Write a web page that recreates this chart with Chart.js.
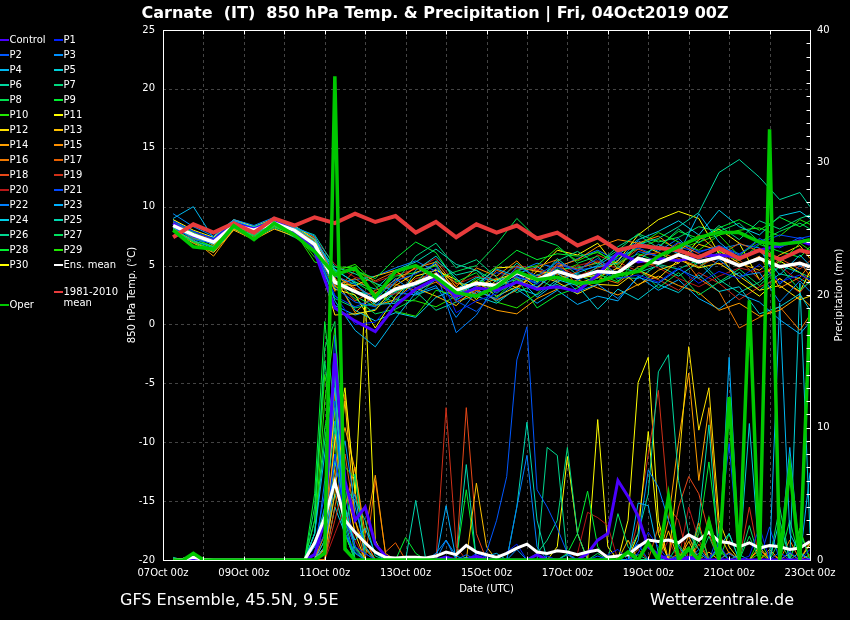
<!DOCTYPE html>
<html>
<head>
<meta charset="utf-8">
<title>Carnate 850 hPa Temp. &amp; Precipitation</title>
<script src="https://cdn.jsdelivr.net/npm/chart.js"></script>
<style>
  html, body { margin: 0; padding: 0; background: #000; }
  canvas { display: block; }
</style>
</head>
<body>
<canvas id="myChart" width="850" height="620"></canvas>
<script>
// hours after 07Oct 00z
const hoursT = [6,18,30,42,54,66,78,90, 102,114,126,138,150,162,174,186, 198,210,222,234,246,258,270,282, 294,306,318,330,342,354,366,378, 384];
const hoursP = [6,12,18,24,30,36,42,48, 54,60,66,72,78,84,90,96, 102,108,114,120,126,132,138,144, 150,156,162,168,174,180,186,192,
                198,204,210,216,222,228,234,240, 246,252,258,264,270,276,282,288, 294,300,306,312,318,324,330,336, 342,348,354,360,366,372,378,384];
const xTickLabels = ['07Oct 00z','09Oct 00z','11Oct 00z','13Oct 00z','15Oct 00z','17Oct 00z','19Oct 00z','21Oct 00z','23Oct 00z'];

// 850 hPa temperature (°C)
const tC  = [8.6,7.5,7.1,8.5,8.1,8.8,7.9,6.2, 1.4,0.3,-0.6,1.6,3.0,3.9,2.4,3.1, 2.9,3.6,3.0,3.2,2.8,4.2,6.1,5.3, 5.6,5.4,5.8,5.9,5.7,6.3,6.7,7.1, 6.8];
const t1  = [8.8,7.9,7.3,8.7,8.2,8.9,8.1,6.5, 2.5,0.0,0.2,2.2,3.3,4.8,1.0,2.0, 2.6,4.2,3.4,4.9,3.8,4.6,3.9,4.2, 3.6,4.8,3.5,4.5,3.9,5.1,3.6,4.2, 3.8];
const t2  = [8.3,7.2,6.9,8.3,7.9,8.5,7.8,6.7, 3.1,1.9,1.5,3.7,4.3,5.2,2.0,1.1, 2.9,4.9,4.1,5.3,4.6,5.6,4.2,6.2, 5.8,7.0,6.2,6.6,5.9,7.3,6.5,7.4, 7.0];
const t3  = [9.4,8.3,7.5,8.9,8.4,9.1,8.3,7.5, 4.1,3.4,2.1,3.9,2.6,3.3,0.6,2.8, 2.2,3.6,3.2,4.4,2.8,3.4,2.2,4.0, 3.5,4.7,3.9,5.5,4.1,4.4,1.9,3.7, 2.8];
const t4  = [9.0,10.0,7.3,8.8,8.2,8.7,7.9,7.0, 2.0,-0.5,-1.9,0.5,2.7,3.8,2.6,3.4, 4.7,4.1,2.3,3.6,4.4,5.0,6.1,5.4, 6.8,6.0,9.4,7.0,5.6,6.4,4.2,5.9, 5.0];
const t5  = [8.2,7.4,6.8,8.6,7.7,8.5,8.2,7.2, 4.7,3.5,1.7,1.8,4.6,5.8,3.9,2.4, 1.8,3.1,2.5,3.8,3.3,1.3,3.0,2.1, 3.4,2.7,4.2,2.8,3.2,0.9,1.5,2.6, 1.2];
const t6  = [8.5,7.6,7.2,8.6,8.3,8.9,8.2,7.6, 4.9,4.3,3.5,2.8,3.5,5.4,4.2,4.6, 3.6,5.2,3.9,3.0,3.7,4.9,5.2,6.8, 7.3,8.3,9.5,12.9,14.0,12.5,10.6,11.2, 10.0];
const t7  = [8.0,7.1,6.6,8.2,7.6,8.4,7.7,6.3, 2.2,1.4,1.8,3.6,5.8,6.9,4.8,5.5, 4.0,2.7,3.5,5.4,6.2,5.1,6.6,7.6, 6.5,8.1,6.9,8.4,7.2,8.8,8.1,9.0, 9.3];
const t8  = [8.7,7.8,7.0,8.3,7.8,8.6,8.0,6.9, 3.8,2.2,0.9,1.3,2.2,3.9,4.5,5.0, 6.8,9.0,7.3,6.7,5.2,5.8,3.7,4.8, 3.1,4.4,2.5,3.6,4.7,3.3,4.9,2.9, 3.6];
const t9  = [8.1,7.0,6.4,8.2,7.5,8.3,7.6,6.0, 4.4,4.6,3.9,5.6,7.0,6.1,3.6,4.4, 2.3,3.9,1.4,2.5,3.1,4.3,3.6,5.8, 6.6,7.9,7.3,8.2,8.9,8.0,9.1,8.3, 8.8];
const t10 = [8.4,7.3,6.6,8.5,7.9,8.7,7.9,5.3, 4.9,4.8,3.3,1.1,0.7,2.9,2.5,3.9, 3.0,4.6,5.0,6.5,5.4,6.2,5.0,6.7, 7.8,7.0,6.3,7.6,5.8,7.2,5.2,6.9, 6.3];
const t11 = [8.9,8.0,7.4,8.9,8.3,9.0,8.4,7.2, 3.0,2.5,-0.3,2.4,4.1,4.6,3.8,2.1, 3.8,4.4,3.1,4.6,3.9,4.2,5.4,7.6, 8.9,9.6,9.0,6.0,3.6,2.4,3.9,2.8, 4.5];
const t12 = [8.3,7.5,6.9,8.4,8.1,8.7,8.1,6.6, 0.8,0.9,1.2,3.3,4.4,5.1,2.8,3.7, 2.4,3.2,4.2,3.6,2.6,3.4,3.3,4.6, 3.9,5.5,4.8,5.2,4.1,2.9,3.3,2.1, 2.4];
const t13 = [7.9,6.9,6.1,8.0,7.2,8.1,7.5,6.1, 3.5,3.3,4.1,4.6,3.1,2.4,1.6,3.2, 3.9,3.1,4.5,4.3,3.5,4.0,4.8,3.3, 4.6,5.2,6.8,6.3,5.2,4.6,5.9,6.7, 5.6];
const t14 = [8.0,7.2,5.8,8.1,7.4,8.3,7.6,6.4, 4.2,3.0,1.6,2.1,3.7,4.1,2.9,1.9, 1.2,0.9,2.2,3.0,3.8,3.1,2.5,3.4, 4.1,3.3,2.7,1.2,1.8,0.7,1.2,2.4, 1.6];
const t15 = [8.6,7.7,6.7,8.5,8.0,8.8,8.3,7.4, 4.0,1.0,2.6,3.8,4.8,5.3,3.2,4.8, 4.1,5.4,3.6,4.9,5.5,6.6,7.2,6.9, 7.5,6.2,7.6,6.1,4.9,5.8,3.1,4.0, 5.1];
const t16 = [8.2,7.0,6.3,8.2,7.6,8.4,7.8,6.6, 3.3,3.9,2.7,3.4,2.9,3.6,2.3,2.9, 2.1,2.9,4.9,5.5,3.2,4.0,3.5,4.9, 5.2,6.1,3.9,2.8,-0.3,0.6,1.5,-0.5, 0.8];
const t17 = [8.7,7.6,7.1,8.6,8.0,8.8,8.1,7.1, 2.8,4.6,3.7,4.5,3.4,4.4,3.2,2.6, 4.6,3.9,3.0,5.2,4.7,5.3,4.3,5.8, 6.1,5.6,4.9,5.8,6.9,6.2,4.8,5.3, 4.1];
const t18 = [8.5,7.3,6.9,8.4,7.8,8.6,8.0,6.9, 3.8,2.0,2.9,3.5,4.9,3.7,2.5,3.6, 3.3,4.8,4.6,3.7,4.5,5.9,5.1,6.4, 5.7,6.9,6.0,5.1,5.5,3.8,5.6,4.7, 5.4];
const t19 = [8.3,7.4,7.0,8.3,8.0,8.5,7.9,6.8, 4.3,3.1,2.4,2.6,3.9,4.3,1.9,2.8, 3.5,4.2,4.0,5.0,4.1,4.8,5.3,4.5, 3.8,2.9,4.4,3.5,2.1,3.2,3.9,2.7, 3.8];
const t20 = [8.6,7.8,7.2,8.7,8.2,8.9,8.2,7.3, 5.1,4.0,3.6,4.2,4.7,5.6,3.4,4.1, 3.8,5.0,4.7,4.2,5.0,5.4,4.7,5.5, 4.8,3.9,3.2,4.1,4.8,4.4,5.0,3.6, 4.4];
const t21 = [8.4,7.7,7.0,8.5,7.9,8.8,8.1,6.4, 2.4,1.5,2.2,3.1,3.6,4.3,2.0,3.3, 4.4,4.0,3.6,5.1,4.6,4.9,5.6,6.5, 5.8,6.6,6.1,6.7,6.0,6.9,7.6,7.3, 7.5];
const t22 = [8.9,7.8,7.4,8.8,8.3,8.9,8.1,6.9, 3.4,3.8,4.1,4.8,5.4,4.5,-0.7,0.8, 3.5,4.5,5.2,4.8,5.6,6.3,5.4,7.1, 6.2,7.3,5.5,6.4,6.8,6.5,3.4,5.0, 4.6];
const t23 = [8.1,7.1,6.5,8.2,7.5,8.4,7.8,6.2, 1.6,0.8,1.3,2.7,2.5,3.1,2.1,3.0, 2.0,3.0,1.8,2.9,1.7,2.4,2.0,4.1, 2.9,3.8,2.2,1.3,2.6,1.9,0.4,-0.8, 0.2];
const t24 = [8.7,7.9,7.2,8.7,8.1,8.7,8.0,7.3, 3.9,1.2,0.3,1.0,0.6,2.3,3.0,4.0, 3.7,4.3,4.9,3.9,4.3,3.9,5.9,7.2, 7.9,8.8,7.6,9.7,8.3,7.6,9.2,9.6, 9.0];
const t25 = [8.4,7.5,6.9,8.4,8.0,8.6,8.0,7.0, 4.6,3.6,3.0,4.6,5.3,6.4,5.1,4.6, 3.1,4.0,3.5,5.6,4.2,3.5,4.9,4.4, 5.0,4.1,5.3,3.5,4.4,2.9,4.3,3.9, 3.4];
const t26 = [8.0,7.0,6.2,8.1,7.3,8.2,7.4,6.6, 3.7,2.8,2.5,1.9,2.8,1.2,1.9,2.5, 3.4,3.8,2.9,3.4,2.6,4.5,4.0,3.9, 5.1,4.7,5.5,3.8,2.7,3.6,5.0,4.4, 4.0];
const t27 = [8.8,7.9,7.2,8.6,8.1,8.9,8.0,7.2, 4.5,2.4,1.5,2.8,3.3,4.1,2.7,3.6, 2.7,3.6,4.2,4.7,4.8,5.2,6.3,7.7, 7.0,7.4,8.3,7.9,8.6,7.0,7.9,8.6, 8.1];
const t28 = [8.5,7.5,6.8,8.4,7.9,8.5,7.7,6.3, 2.9,3.6,2.6,4.1,4.4,5.0,2.2,3.7, 4.9,6.3,5.5,6.0,5.8,6.1,5.2,6.0, 5.3,6.7,4.8,6.2,5.4,6.8,6.2,5.7, 6.6];
const t29 = [8.3,7.3,6.6,8.3,7.7,8.5,7.8,5.7, 4.5,5.1,3.5,2.1,2.0,1.5,2.4,3.5, 1.9,1.4,2.6,4.4,5.1,3.6,5.8,6.4, 7.2,6.4,7.0,7.6,8.0,8.2,7.5,8.9, 8.5];
const t30 = [8.6,7.7,7.1,8.7,8.2,8.9,8.2,7.0, 3.2,2.9,1.9,3.1,3.5,4.7,3.5,3.3, 4.8,4.9,4.5,6.3,5.9,6.9,4.7,6.9, 6.1,5.2,7.2,8.1,6.9,3.8,5.4,4.4, 3.6];
const tOper = [8.0,6.6,6.4,8.4,7.2,8.6,7.6,6.2, 4.2,4.8,2.3,4.5,5.0,4.0,2.7,2.4, 3.2,4.5,3.8,4.0,3.5,3.6,4.2,4.5, 5.8,6.6,7.4,7.8,7.8,7.0,6.8,7.0, 7.2];
const tMean = [8.4,7.6,7.0,8.4,8.0,8.6,8.0,6.8, 3.6,2.8,2.0,3.0,3.5,4.2,2.9,3.5, 3.3,4.4,3.8,4.5,4.0,4.5,4.4,5.6, 5.2,5.9,5.3,5.7,5.0,5.6,4.9,5.2, 4.9];
const tClim = [7.4,8.5,7.8,8.6,7.8,9.0,8.4,9.1, 8.6,9.4,8.7,9.2,7.8,8.7,7.4,8.5, 7.8,8.4,7.3,7.8,6.7,7.4,6.3,6.7, 6.5,6.3,5.7,6.5,5.6,6.3,5.5,6.3, 6.1];

// precipitation (mm)
const rC  = [0,0,0,0,0,0,0,0, 0,0,0,0,0,0,0.4,3, 15.6,6,3,4,1.2,0.3,0,0, 0,0,0,0.2,0,0,0.3,0, 0,0,0,0,0.4,0,0,0, 0,0.5,1.5,2,6,4.8,3.3,1, 0.4,0,0,0.2,0,0,0,0, 0,0,0,0,0,0,0,0];
const r1  = [0,0,0,0,0,0,0,0, 0,0,0,0,0,0,0.5,2, 8,3,1,0.5,0,0,0,0, 0,0,0,0.3,0,0,0.5,0.2, 0,0.6,1.2,0,0,0.3,0,0, 0,0,0,0.4,0.8,0,0.5,2.1, 1,0,0.3,0,0,0,1.2,0, 0,0.3,2.5,0,0,0.6,0,0.8];
const r2  = [0,0,0,0,0,0,0,0, 0,0,0,0,0,0,1,5, 12,2,0.6,0,0,0,0,0, 0,0,0,0,0,0.4,0,0.6, 3,6.3,15.1,17.6,5.3,4,2.4,0.5, 0,0,0.3,0,0,0.5,1.2,0, 0,0.4,0,0,0.8,0,0,0.5, 0,0,0,0,0.6,0,0,0];
const r3  = [0,0,0,0,0,0,0,0, 0,0,0,0,0,0,0,1, 6,9,4,1,0,0,0,0, 0,0,0.5,1.5,0.3,0,0,0, 0,0,0.8,0,0,0,0,0.4, 0,0,0,0,0,0,1.5,6.8, 5.5,3,1,0,0.5,0,0,0, 0,0,0,0,0,0,0,0];
const r4  = [0,0,0,0,0,0,0,0, 0,0,0,0,0,0,2,8, 13,3,1.5,2.4,0.5,0,0,0, 0,0,0,0,0,0,0,0.3, 0.5,0,0,0,0,0,0,0, 0,0,0,0,0,0,4.3,4.1, 0.5,0,0.3,0,0,0,0,0, 0,0,0,0,19.4,2,0.5,0];
const r5  = [0,0,0,0,0,0,0,0, 0,0,0,0,0,0,0,1.5, 7.5,4,0.8,0,0,0,0,0, 0,0,0,0,0,0.2,0,0, 0,0,0,0,0,0,0,0, 0,0,0,0,0,0,0,0, 0,0,0,0,0,0,1,2, 0,10.3,0,0,3,0,20.9,2];
const r6  = [0.2,0,0,0,0,0,0,0, 0,0,0,0,0,0,1,4, 10,5.4,4.5,3,0.3,0,0,0, 0,0,0,0,0,0,0,0, 0,0,0,0,0,0,0,0, 0,0,0,0,0,0.5,2,5, 14.2,15.5,6,2,0.8,0,0,0, 0.4,0,0,0,0,0,0.6,0];
const r7  = [0,0,0,0,0,0,0,0, 0,0,0,0,0,0,2,9, 14,2,6.5,0.5,0,0,0,0, 0,0,0,0,0,0,0,0, 0,0,0,0,0.5,1.5,3,8.5, 2,0,0,0,0,0,0.4,0, 0,0,0,0,0,0,0,0, 0,0,0,0,0,0,0,0];
const r8  = [0,0,0,0,0,0,0,0, 0,0,0,0,0,0,3,16, 18,4,1,0,0,0,0,0, 0,0,0,0,0,0,0,0, 0,0,0,0,0,0,0,0, 0,0,0.5,0,0,0,0,0, 0,0,1.2,0,2.5,0,0.8,0, 0,1.8,0,0,1.5,0,2.2,0];
const r9  = [0,0,0.3,0,0,0,0,0, 0,0,0,0,0,0,5,18, 11,2,0,0,0,0,0,1.7, 0.5,0,0,0,0,0,0,0, 0,0,0,0,0,0,0,0.5, 2,5.2,1,0,0,0,0,0, 0,0,0,0,2,7.4,1,0, 0,0,0,0,0,0,0,0];
const r10 = [0,0,0,0,0,0,0,0, 0,0,0,0,0,0,2,12, 17.5,7,6.2,1,0,0,0,0, 0,0,0,0,0,0,0,0, 0,0,0,0,0,0,0,0, 0,0,0,0,0,0,0,0, 0,0,0.3,1,0,0,0,0, 0,0,0.5,0,0,0,0,0];
const r11 = [0,0,0,0,0,0,0,0, 0,0,0,0,0,0,0,1, 9,13,5,20,1.5,0,0,0, 0,0,0,0,0,0,0,0, 0,0,0,0,0,0,0,0, 0,0,0,0,0,0,2,9.7, 2,0,0,0,0,0,0,0, 0,0,0,0,0,0,0,0];
const r12 = [0,0,0,0,0,0,0,0, 0,0,0,0,0,0,0,3, 11.5,6,2,0,0,0,0,0, 0,0,0,0,0,0,0,0, 0,0,0,0,0,0,0,0, 0,0,0,0,0,0,0,0, 0,0,7,16.1,9.8,13,3,1, 0,0,0,0,0,0,0,0];
const r13 = [0,0,0,0,0,0,0,0, 0,0,0,0,0,0,0,0.5, 5,12,3,0.8,0,0,0,0, 0,0,0,0,0,0,5.8,1, 0,0,0,0,0,0,0,0, 0,0,0,0,0,1.5,0,0, 0,2.2,0,1.4,0,0.6,0,0, 0,0,1,0,0,0.5,0,1.2];
const r14 = [0,0,0,0,0,0,0,0, 0,0,0,0,0,0,0,0, 7,10,6.8,2,6.4,0.5,0,0, 0,0,0,0,0,0,0,0, 0,0,0,0,0,0,0,0, 0,0,0,0,0,0,0,0, 0,3,9,14.1,6,11.5,2,0.5, 0,0,0,0,0,0,0,0];
const r15 = [0,0,0,0,0,0,0,0, 0,0,0,0,0,0,0,1, 13,4,7,1,0,0,0,0, 0,0,0,0,0,0,0,0, 0,0,0,0,0,0,0,0, 0,0,0,0,0,0,0,0, 0,0,0,1.8,0,3.2,0,0.6, 0,0,0,0.8,0,0,0,0.4];
const r16 = [0,0,0,0,0,0,0,0, 0,0,0,0,0,0,0,2, 6,12.5,5.2,1.5,0,0,0,0, 0,0,0,0,0,0,0,0, 0,0,0,0,0,0,0,0, 0,0,0,0,0,0,0,0, 0,0,0.5,0,2.8,0,1.1,0, 0,0,0.8,0,0,1.5,0,0];
const r17 = [0,0,0,0,0,0,0,0, 0,0,0,0,0,0,0,0, 4,8,3,0,6,0.6,1.3,0, 0,0,0,0,0,0,0,0, 0,0,0,0,0,0,0,0, 0,0,0,0,0,0,0.8,0, 2.5,0,0,0,1.2,0,0,0, 0,0,0,0.6,0,0,0,1.4];
const r18 = [0,0,0,0,0,0,0,0, 0,0,0,0,0,0,0,1.5, 9.5,3.5,1,0,0,0,0,0, 0,0,0,0,0,11.5,2,0, 0,0,0,0,0,0,0,0, 0,0,0,0,0,0,0,0, 0,0,4,6.3,5,2,0,0, 0,0,0,0,0,0,0,0];
const r19 = [0,0,0,0,0,0,0,0, 0,0,0,0,0,0,0,0, 3,6,2,1.5,0,0,0,0, 0,0,0,11.5,1,0,0,0, 0,0,0,0,0,0,0,0, 0,0,0,0,0,0,3,8, 12.8,4,3,0,0,0,0,0, 0,4,0,0,0,0,0,0];
const r20 = [0,0,0,0,0,0,0,0, 0,0,0,0,0,0,0,0, 2,4,1.5,0,0,0,0,0, 0,0,0,0,0,0,0,0, 0,0,0,0,0,0,0,0, 0.5,3.6,3.2,2.6,0,0,0,0, 0,1.5,0,4,1.5,0,0,0, 0,0,0,0,0,0,0,0];
const r21 = [0,0,0,0,0,0,0,0, 0,0,0,0,0,0,0,4, 17,5,1,0,0,0,0,0, 0,0,0,0,0,0,0,0, 0,0,0,0,0,0,0,0, 0,0,0,0,0,0,0,0, 0,0,0,0,0,0,2,8.8, 0,0,0,2.5,0,0,0,0];
const r22 = [0,0,0,0,0,0,0,0, 0,0,0,0,0,0,0,6, 10.5,2.5,0,0,0,0,0,0, 0,0,0,1.5,0,0,0,0, 0,0,4,7.9,1,0,0,0, 0,0,0,0,0,0,0,0, 0,0,0,0,0,0,0,0, 0,0,0,0,0,0,0,0];
const r23 = [0,0,0,0,0,0,0,0, 0,0,0,0,0,0,0,2, 14,3,5,0,0,0,0,0, 0,0,0,4.1,0,0,0,0, 0,0,0,0,0,0,0,0, 0,0,0,0,0,0,0,0, 0,0,0,0,0,0,0,15.3, 0,0,0,0,0,8.5,0,6.6];
const r24 = [0,0,0,0,0,0,0,0, 0,0,0,0,0,0,0,0, 4,2,0,0,0,0,0,0, 0,0,0,0,0,0,0,0, 0,0,0,0,0,0,0,0, 0,0,0,0,0,0,0,0, 0,0,0,0,0,0,0,0, 0,0,0,0,0,0,0,19];
const r25 = [0,0,0,0,0,0,0,0, 0,0,0,0,0,0,0,1, 5,2,0.5,0,0,0,0,0, 4.5,0,0,0,0,7.2,0,0, 0,0,4,10.4,3,0,0,0, 0,0,0,0,0,0,0,0, 0,0,0,0,3,10.2,0,0, 0,0,0,0,0,0,0,0];
const r26 = [0,0,0,0,0,0,0,0, 0,0,0,0,0,0,1,3, 8,3,0,0,0,0,0,0, 0,0,0,0,0,0,0,0, 0,0,0,0,0,8.5,7.9,0, 0,0,0,0,0,0,0,0, 0,0,0,0,0,0,0,0, 0,0,0,0,0,0,0,0];
const r27 = [0,0,0,0,0,0,0,0, 0,0,0,0,0,0,4,15, 9,1,0,0,0,0,0,0, 0,0,0,0,0,0,0,0, 0,0,0,0,0,0,0,0, 0,0,0,0,3.5,1,0,0, 0,0,0,0,0,1.8,0,0, 0,2.6,0,0,4,0,0,1.2];
const r28 = [0,0,0,0,0,0,0,0, 0,0,0,0,0,0,2,10, 13,6,0,0,0,0,0,0, 0,0,0,0,0,5.3,0,0, 0,0,0,0,0,0,0,0, 0,0,0,0,0,0,0,0, 0,0,0,0,1.5,0,0,2, 0,0,0,0,0,3,0,0];
const r29 = [0,0,0,0,0,0,0,0, 0,0,0,0,0,0,3,14, 10,2,0,0,0,0,0,0, 0,0,0,0,0,0,0,0, 0,0,0,0,0,0,0,0, 0,0,0,0,0,0,0,0, 0,0,0,0,0,0,0.7,0, 0,0,1.6,0,0,0,2.4,0];
const r30 = [0,0,0,0,0,0,0,0, 0,0,0,0,0,0,0,0.8, 6,3,1,0,0,0,0,0, 0,0,0,0,0,0,0,0, 0,0,0,0,0,0,1,7.8, 2,0,10.6,1,0,3,13.4,15.3, 3,0,0,0,0,0,0,0, 0,0,0,0,0,0,0,0];
const rOper = [0,0,0.5,0,0,0,0,0, 0,0,0,0,0,0,0,0.5, 36.5,0.8,0,0,0,0,0,0, 0,0,0,0,0,0,0,0, 0,0,0,0,0,0,0,0, 0,0,0,0,0,0.6,0,1.3, 0,4.8,0,0.8,0,2.9,0,12.3, 0,19.6,0,32.5,0,6.9,0,18.9];
const rMean = [0,0.05,0.2,0.05,0,0,0,0, 0,0,0,0,0,0,1.3,3.2, 5.9,3.0,2.1,1.3,0.6,0.2,0.15,0.2, 0.2,0.15,0.3,0.6,0.4,1.1,0.6,0.4,
               0.2,0.5,0.9,1.2,0.6,0.5,0.7,0.6, 0.4,0.6,0.75,0.2,0.3,0.4,1.0,1.5, 1.4,1.5,1.3,1.9,1.5,2.1,1.4,1.3, 1.0,1.3,0.9,1.1,1.0,0.8,0.9,1.4];

const names = ['Control','P1','P2','P3','P4','P5','P6','P7','P8','P9','P10','P11','P12','P13','P14','P15',
               'P16','P17','P18','P19','P20','P21','P22','P23','P24','P25','P26','P27','P28','P29','P30'];
const colours = ['#4a00ff','#0020ff','#0058ff','#0090ff','#00b8f0','#00d0d8','#00d8a0','#00d880','#00e050','#00f030','#20e800',
                 '#ffff00','#ffe000','#ffc000','#ffa000','#ff9000','#f07800','#e86000','#e84818','#d03018','#b81818',
                 '#0048ff','#0080ff','#00b0ff','#00d0e8','#00d8b0','#00d890','#00e060','#00f030','#20e800','#ffff00'];
const memberTemps = [tC,t1,t2,t3,t4,t5,t6,t7,t8,t9,t10,t11,t12,t13,t14,t15,t16,t17,t18,t19,t20,t21,t22,t23,t24,t25,t26,t27,t28,t29,t30];
const memberRain = [rC,r1,r2,r3,r4,r5,r6,r7,r8,r9,r10,r11,r12,r13,r14,r15,r16,r17,r18,r19,r20,r21,r22,r23,r24,r25,r26,r27,r28,r29,r30];
const operColour = '#00c800';
const climColour = '#e83c3c';

const FONT = '"DejaVu Sans", "Liberation Sans", sans-serif';

function toPts(hours, vals) {
    return vals.map((v, i) => ({ x: hours[i], y: v }));
}

const datasets = [];
memberTemps.forEach((vals, i) => {
    datasets.push({
        label: names[i],
        data: toPts(hoursT, vals),
        yAxisID: "y",
        borderColor: colours[i],
        borderWidth: i === 0 ? 3 : 1,
        order: i === 0 ? 5 : 9,
    });
    datasets.push({
        label: names[i] + " precip",
        data: toPts(hoursP, memberRain[i]),
        yAxisID: "y2",
        borderColor: colours[i],
        borderWidth: i === 0 ? 3 : 1,
        order: i === 0 ? 5 : 10,
    });
});
datasets.push({ label: "Ens. mean", data: toPts(hoursT, tMean), yAxisID: "y", borderColor: "#ffffff", borderWidth: 3.5, order: 3 });
datasets.push({ label: "Ens. mean precip", data: toPts(hoursP, rMean), yAxisID: "y2", borderColor: "#ffffff", borderWidth: 3, order: 3 });
datasets.push({ label: "1981-2010 mean", data: toPts(hoursT, tClim), yAxisID: "y", borderColor: climColour, borderWidth: 4, order: 2 });
datasets.push({ label: "Oper", data: toPts(hoursT, tOper), yAxisID: "y", borderColor: operColour, borderWidth: 3.5, order: 1 });
datasets.push({ label: "Oper precip", data: toPts(hoursP, rOper), yAxisID: "y2", borderColor: operColour, borderWidth: 3.5, order: 1 });

// grid, frame, titles and the two-column legend
const decor = {
    id: "decor",
    beforeDatasetsDraw(chart) {
        const { ctx, chartArea: a, scales } = chart;
        ctx.save();
        ctx.strokeStyle = "#444";
        ctx.lineWidth = 1;
        ctx.setLineDash([3, 3]);
        scales.x.ticks.forEach((t) => {
            const px = Math.round(scales.x.getPixelForValue(t.value)) + 0.5;
            if (px < a.left + 2 || px > a.right - 2) return;
            ctx.beginPath();
            ctx.moveTo(px, a.top);
            ctx.lineTo(px, a.bottom);
            ctx.stroke();
        });
        scales.y.ticks.forEach((t) => {
            const py = Math.round(scales.y.getPixelForValue(t.value)) + 0.5;
            if (py < a.top + 2 || py > a.bottom - 2) return;
            ctx.beginPath();
            ctx.moveTo(a.left, py);
            ctx.lineTo(a.right, py);
            ctx.stroke();
        });
        ctx.restore();
    },
    afterDatasetsDraw(chart) {
        const { ctx, chartArea: a, scales } = chart;
        const L = Math.round(a.left) + 0.5, R = Math.round(a.right) + 0.5;
        const T = Math.round(a.top) + 0.5, B = Math.round(a.bottom) + 0.5;
        ctx.save();
        ctx.strokeStyle = "#fff";
        ctx.lineWidth = 1;
        ctx.strokeRect(L, T, R - L, B - T);
        ctx.beginPath();
        scales.x.ticks.forEach((t) => {
            const px = Math.round(scales.x.getPixelForValue(t.value)) + 0.5;
            ctx.moveTo(px, T);
            ctx.lineTo(px, T + 4);
            ctx.moveTo(px, B);
            ctx.lineTo(px, B - 4);
        });
        scales.y2.ticks.forEach((t) => {
            const py = Math.round(scales.y2.getPixelForValue(t.value)) + 0.5;
            ctx.moveTo(R, py);
            ctx.lineTo(R - 4, py);
        });
        ctx.stroke();
        ctx.restore();
    },
    afterDraw(chart) {
        const { ctx, chartArea: a } = chart;
        ctx.save();
        ctx.fillStyle = "#fff";
        ctx.textBaseline = "alphabetic";

        ctx.font = "bold 16px " + FONT;
        ctx.textAlign = "center";
        ctx.fillText("Carnate  (IT)  850 hPa Temp. & Precipitation | Fri, 04Oct2019 00Z", 435, 18);

        ctx.font = "16px " + FONT;
        ctx.textAlign = "left";
        ctx.fillText("GFS Ensemble, 45.5N, 9.5E", 120, 605);
        ctx.fillText("Wetterzentrale.de", 650, 605);

        ctx.font = "10px " + FONT;
        ctx.textAlign = "center";
        ctx.textBaseline = "middle";
        ctx.fillText("Date (UTC)", (a.left + a.right) / 2, 589);
        const midY = (a.top + a.bottom) / 2;
        ctx.save();
        ctx.translate(132, midY);
        ctx.rotate(-Math.PI / 2);
        ctx.fillText("850 hPa Temp. (°C)", 0, 0);
        ctx.restore();
        ctx.save();
        ctx.translate(839, midY);
        ctx.rotate(-Math.PI / 2);
        ctx.fillText("Precipitation (mm)", 0, 0);
        ctx.restore();

        // legend
        ctx.textAlign = "left";
        ctx.lineWidth = 2;
        const item = (x, y, colour, text) => {
            ctx.strokeStyle = colour;
            ctx.beginPath();
            ctx.moveTo(x, y);
            ctx.lineTo(x + 9, y);
            ctx.stroke();
            ctx.fillText(text, x + 9.5, y);
        };
        names.forEach((n, i) => {
            const col = i % 2, row = Math.floor(i / 2);
            item(col === 0 ? 0 : 54, 40 + row * 15, colours[i], n);
        });
        item(54, 265, "#ffffff", "Ens. mean");
        item(54, 292, climColour, "1981-2010");
        ctx.fillText("mean", 63.5, 303);
        item(0, 305, operColour, "Oper");
        ctx.restore();
    },
};

const ctx = document.getElementById("myChart");
new Chart(ctx, {
    type: "line",
    data: { datasets: datasets },
    options: {
        responsive: false,
        animation: false,
        devicePixelRatio: 1,
        layout: { padding: { left: 0, right: 0, top: 30, bottom: 0 } },
        elements: { point: { radius: 0 }, line: { tension: 0 } },
        plugins: {
            legend: { display: false },
            tooltip: { enabled: false },
        },
        scales: {
            x: {
                type: "linear",
                min: 0,
                max: 384,
                grid: { display: false, drawTicks: false },
                border: { display: false },
                ticks: {
                    stepSize: 24,
                    autoSkip: false,
                    maxRotation: 0,
                    color: "#fff",
                    padding: 7,
                    font: { family: FONT, size: 10 },
                    callback: (v) => (v % 48 === 0 ? xTickLabels[v / 48] : ""),
                },
                afterFit: (s) => { s.height = 60; },
            },
            y: {
                position: "left",
                min: -20,
                max: 25,
                grid: { display: false, drawTicks: false },
                border: { display: false },
                ticks: { stepSize: 5, color: "#fff", padding: 8, font: { family: FONT, size: 10 } },
                afterFit: (s) => { s.width = 163; },
            },
            y2: {
                position: "right",
                min: 0,
                max: 40,
                grid: { display: false, drawTicks: false },
                border: { display: false },
                ticks: {
                    stepSize: 1,
                    autoSkip: false,
                    color: "#fff",
                    padding: 7,
                    font: { family: FONT, size: 10 },
                    callback: (v) => (v % 10 === 0 ? v : ""),
                },
                afterFit: (s) => { s.width = 40; },
            },
        },
    },
    plugins: [decor],
});
</script>
</body>
</html>
